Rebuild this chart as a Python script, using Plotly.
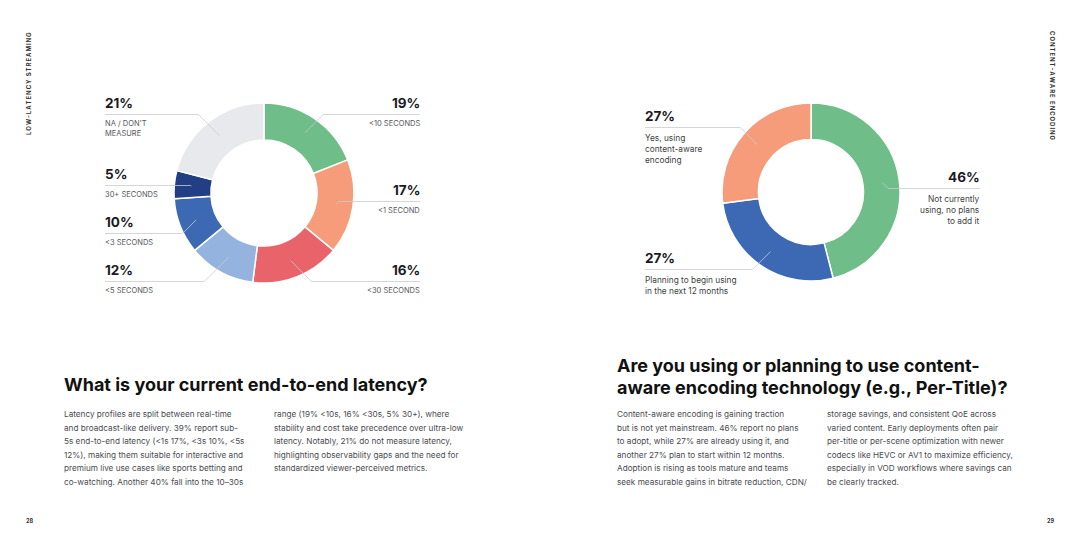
import numpy as np
import plotly.graph_objects as go

W, H = 1080, 540
FONT = "Inter"

# left donut: end-to-end latency
latency_labels = ["<10 SECONDS", "<1 SECOND", "<30 SECONDS", "<5 SECONDS",
                  "<3 SECONDS", "30+ SECONDS", "NA / DON'T<br>MEASURE"]
latency_values = [19, 17, 16, 12, 10, 5, 21]
latency_colors = ["#6fbd88", "#f69c7b", "#e8636a", "#95b3df",
                  "#3d69b4", "#223f86", "#e8e9ed"]

# right donut: content-aware encoding
encoding_labels = ["Not currently<br>using, no plans<br>to add it",
                   "Planning to begin using<br>in the next 12 months",
                   "Yes, using<br>content-aware<br>encoding"]
encoding_values = [46, 27, 27]
encoding_colors = ["#6fbd88", "#3d69b4", "#f69c7b"]

left_title = "What is your current end-to-end latency?"
left_body_1 = ["Latency profiles are split between real-time",
               "and broadcast-like delivery. 39% report sub-",
               "5s end-to-end latency (<1s 17%, <3s 10%, <5s",
               "12%), making them suitable for interactive and",
               "premium live use cases like sports betting and",
               "co-watching. Another 40% fall into the 10\u201330s"]
left_body_2 = ["range (19% <10s, 16% <30s, 5% 30+), where",
               "stability and cost take precedence over ultra-low",
               "latency. Notably, 21% do not measure latency,",
               "highlighting observability gaps and the need for",
               "standardized viewer-perceived metrics."]

right_title = ["Are you using or planning to use content-",
               "aware encoding technology (e.g., Per-Title)?"]
right_body_1 = ["Content-aware encoding is gaining traction",
                "but is not yet mainstream. 46% report no plans",
                "to adopt, while 27% are already using it, and",
                "another 27% plan to start within 12 months.",
                "Adoption is rising as tools mature and teams",
                "seek measurable gains in bitrate reduction, CDN/"]
right_body_2 = ["storage savings, and consistent QoE across",
                "varied content. Early deployments often pair",
                "per-title or per-scene optimization with newer",
                "codecs like HEVC or AV1 to maximize efficiency,",
                "especially in VOD workflows where savings can",
                "be clearly tracked."]


def px(x):
    return x / W


def py(y):
    return 1 - y / H


def slice_point(values, i, cx, cy, r):
    total = sum(values)
    mid = (sum(values[:i]) + values[i] / 2) / total * 2 * np.pi
    return cx + r * np.sin(mid), cy - r * np.cos(mid)


fig = go.Figure()
annotations = []
shapes = []


def add_donut(values, colors, cx, cy, r):
    fig.add_trace(go.Pie(
        values=values,
        marker=dict(colors=colors, line=dict(color="white", width=1.5)),
        hole=0.59, sort=False, direction="clockwise", rotation=0,
        textinfo="none", hoverinfo="skip", showlegend=False,
        domain=dict(x=[px(cx - r), px(cx + r)], y=[py(cy + r), py(cy - r)]),
    ))


def note(x, y, text, size, color, anchor="left", valign="middle", angle=0):
    annotations.append(dict(
        x=px(x), y=py(y), xref="paper", yref="paper",
        text=text, showarrow=False, align=anchor if anchor != "center" else "center",
        xanchor=anchor, yanchor=valign, textangle=angle,
        borderpad=0, borderwidth=0,
        font=dict(family=FONT, size=size, color=color)))


def add_labels(values, labels, cx, cy, r, spots, sub_size, sub_color, sub_gap):
    for i, (side_x, anchor, y) in enumerate(spots):
        note(side_x, y, f"<b>{values[i]}%</b>", 13.5, "#1b1b1f", anchor)
        note(side_x, y + sub_gap, labels[i], sub_size, sub_color, anchor, "top")
        bx, by = slice_point(values, i, cx, cy, r * 0.81)
        ly = y + 11.5
        sign = 1 if anchor == "right" else -1
        ex = bx + sign * abs(by - ly)
        shapes.append(dict(
            type="path", xref="paper", yref="paper",
            path=f"M{px(side_x)},{py(ly)} L{px(ex)},{py(ly)} L{px(bx)},{py(by)}",
            line=dict(color="#c9cbd0", width=0.8)))


add_donut(latency_values, latency_colors, 264, 193, 90)
add_labels(latency_values, latency_labels, 264, 193, 90,
           [(420, "right", 103), (420, "right", 190), (420, "right", 270),
            (105, "left", 270), (105, "left", 222), (105, "left", 174),
            (105, "left", 103)],
           7.5, "#55575c", 16)

add_donut(encoding_values, encoding_colors, 811, 192, 89)
add_labels(encoding_values, encoding_labels, 811, 192, 89,
           [(980, "right", 177), (645, "left", 258), (645, "left", 116)],
           8.3, "#3d3f44", 17)

note(64, 384, f"<b>{left_title}</b>", 18, "#111111")
note(617, 365, f"<b>{right_title[0]}</b>", 18, "#111111")
note(617, 387, f"<b>{right_title[1]}</b>", 18, "#111111")

for col_x, lines in [(64, left_body_1), (274, left_body_2),
                     (617, right_body_1), (827, right_body_2)]:
    for k, line in enumerate(lines):
        note(col_x, 414 + 13.6 * k, line, 8.2, "#4a4c52")

spaced = "\u2009"
note(28, 84, "<b>" + spaced.join("LOW-LATENCY STREAMING") + "</b>", 6,
     "#333333", "center", angle=-90)
note(1052, 86, "<b>" + spaced.join("CONTENT-AWARE ENCODING") + "</b>", 6,
     "#333333", "center", angle=90)
note(29, 521, "<b>28</b>", 5.5, "#333333", "center")
note(1050, 521, "<b>29</b>", 5.5, "#333333", "center")

fig.update_layout(
    width=W, height=H,
    margin=dict(l=0, r=0, t=0, b=0),
    paper_bgcolor="white", plot_bgcolor="white",
    annotations=annotations, shapes=shapes,
)

# drop the page's default body margin so the figure sits at the window corner
fig.write_html("out.html", config={"displayModeBar": False},
               post_script="document.body.style.margin='0';")
